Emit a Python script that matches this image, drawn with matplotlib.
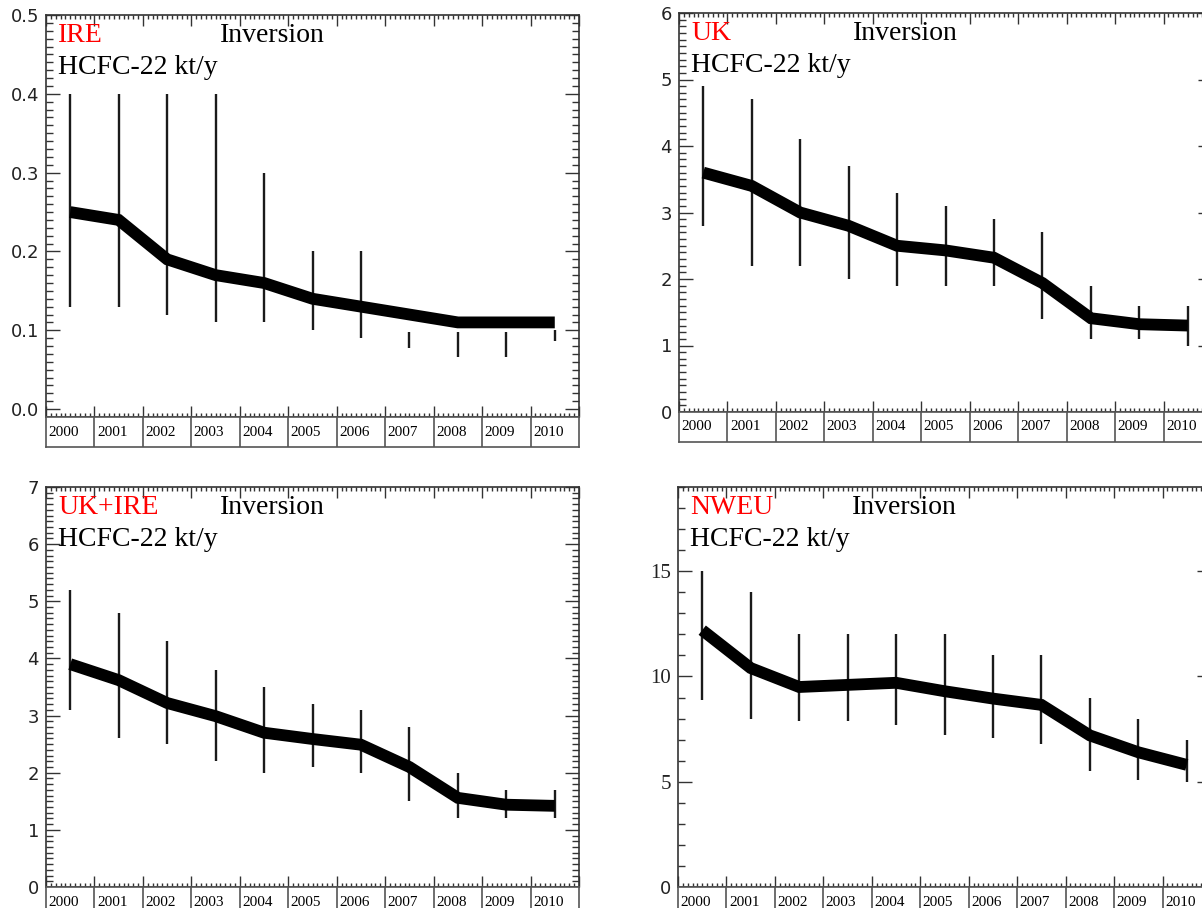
import numpy as np
import matplotlib
matplotlib.use("Agg")
import matplotlib.pyplot as plt
from matplotlib.ticker import MultipleLocator, FixedLocator

# data
years = ["2000", "2001", "2002", "2003", "2004", "2005",
         "2006", "2007", "2008", "2009", "2010"]

ire_val = [0.25, 0.24, 0.19, 0.17, 0.16, 0.14, 0.13, 0.12, 0.11, 0.11, 0.11]
ire_lo = [0.13, 0.13, 0.12, 0.11, 0.11, 0.10, 0.09, 0.077, 0.066, 0.066, 0.086]
ire_hi = [0.40, 0.40, 0.40, 0.40, 0.30, 0.20, 0.20, 0.098, 0.098, 0.098, 0.10]

uk_val = [3.6, 3.4, 3.0, 2.8, 2.5, 2.43, 2.32, 1.94, 1.41, 1.32, 1.3]
uk_lo = [2.8, 2.2, 2.2, 2.0, 1.9, 1.9, 1.9, 1.4, 1.1, 1.1, 1.0]
uk_hi = [4.9, 4.7, 4.1, 3.7, 3.3, 3.1, 2.9, 2.7, 1.9, 1.6, 1.6]

ukire_val = [3.9, 3.62, 3.22, 2.99, 2.7, 2.59, 2.49, 2.1, 1.56, 1.44, 1.42]
ukire_lo = [3.1, 2.6, 2.5, 2.2, 2.0, 2.1, 2.0, 1.5, 1.2, 1.2, 1.2]
ukire_hi = [5.2, 4.8, 4.3, 3.8, 3.5, 3.2, 3.1, 2.8, 2.0, 1.7, 1.7]

nweu_val = [12.2, 10.4, 9.5, 9.6, 9.7, 9.3, 8.95, 8.65, 7.2, 6.4, 5.8]
nweu_lo = [8.9, 8.0, 7.9, 7.9, 7.7, 7.2, 7.1, 6.8, 5.5, 5.1, 5.0]
nweu_hi = [15.0, 14.0, 12.0, 12.0, 12.0, 12.0, 11.0, 11.0, 9.0, 8.0, 7.0]

W, H = 1202.0, 908.0
fig = plt.figure(figsize=(W / 100, H / 100), dpi=100)

serif = "Liberation Serif"
edge = "#333333"


def px_axes(left, top, right, bottom):
    return fig.add_axes([left / W, (H - bottom) / H, (right - left) / W, (bottom - top) / H])


def panel(left, top, right, bottom, region, val, lo, hi, ylim, major, minor, fmt, serif_ticks=False):
    ax = px_axes(left, top, right, bottom)
    x = np.arange(len(years))
    ax.vlines(x, lo, hi, color="#1a1a1a", lw=1.7)
    ax.plot(x, val, color="k", lw=8.5, solid_capstyle="butt", solid_joinstyle="miter")
    ax.set_xlim(-0.5, len(years) - 0.5)
    ax.set_ylim(*ylim)

    ax.xaxis.set_major_locator(FixedLocator(np.arange(-0.5, len(years), 1.0)))
    ax.xaxis.set_minor_locator(MultipleLocator(0.1))
    ax.yaxis.set_major_locator(MultipleLocator(major))
    ax.yaxis.set_minor_locator(MultipleLocator(minor))
    ax.tick_params(which="both", direction="in", top=True, right=True, colors=edge, width=1)
    ax.tick_params(axis="y", which="major", length=10, labelsize=13, labelcolor="#222222", pad=5)
    ax.tick_params(axis="y", which="minor", length=5)
    ax.tick_params(axis="x", which="major", length=8, labelbottom=False)
    ax.tick_params(axis="x", which="minor", length=3)
    ticks = np.arange(ylim[0] if ylim[0] >= 0 else 0, ylim[1] + 1e-9, major)
    ax.set_yticks(ticks)
    ax.set_yticklabels([fmt.format(t) for t in ticks])
    if serif_ticks:
        for lab in ax.get_yticklabels():
            if lab.get_text() != "0":
                lab.set_fontfamily(serif)
                lab.set_fontsize(15)
    for s in ax.spines.values():
        s.set_color(edge)
        s.set_linewidth(1.2)

    h = bottom - top
    w = right - left
    ax.text(12 / w, 1 - 21 / h, region, transform=ax.transAxes,
            color="red", fontsize=20, family=serif, va="center", ha="left")
    ax.text(174 / w, 1 - 21 / h, "Inversion", transform=ax.transAxes,
            color="black", fontsize=20, family=serif, va="center", ha="left")
    ax.text(12 / w, 1 - 53 / h, "HCFC-22 kt/y", transform=ax.transAxes,
            color="black", fontsize=20, family=serif, va="center", ha="left")

    # row of year boxes under the axis
    yb = px_axes(left, bottom, right, bottom + 30)
    yb.set_xlim(-0.5, len(years) - 0.5)
    yb.set_ylim(0, 1)
    yb.set_xticks([])
    yb.set_yticks([])
    for s in yb.spines.values():
        s.set_color("#555555")
        s.set_linewidth(1.2)
    for i in range(1, len(years)):
        yb.axvline(i - 0.5, color="#555555", lw=1.2)
    for i, yr in enumerate(years):
        yb.text(i - 0.45, 0.5, yr, fontsize=11, family=serif, va="center", ha="left",
                color="black")
    return ax


panel(46, 15, 579, 417, "IRE", ire_val, ire_lo, ire_hi, (-0.01, 0.5), 0.1, 0.01, "{:.1f}")
panel(679, 13, 1212, 412, "UK", uk_val, uk_lo, uk_hi, (0, 6), 1, 0.1, "{:.0f}")
panel(46, 487, 579, 887, "UK+IRE", ukire_val, ukire_lo, ukire_hi, (0, 7), 1, 0.1, "{:.0f}")
panel(678, 487, 1211, 887, "NWEU", nweu_val, nweu_lo, nweu_hi, (0, 19), 5, 1, "{:.0f}", serif_ticks=True)

fig.savefig("out.png", dpi=100)
